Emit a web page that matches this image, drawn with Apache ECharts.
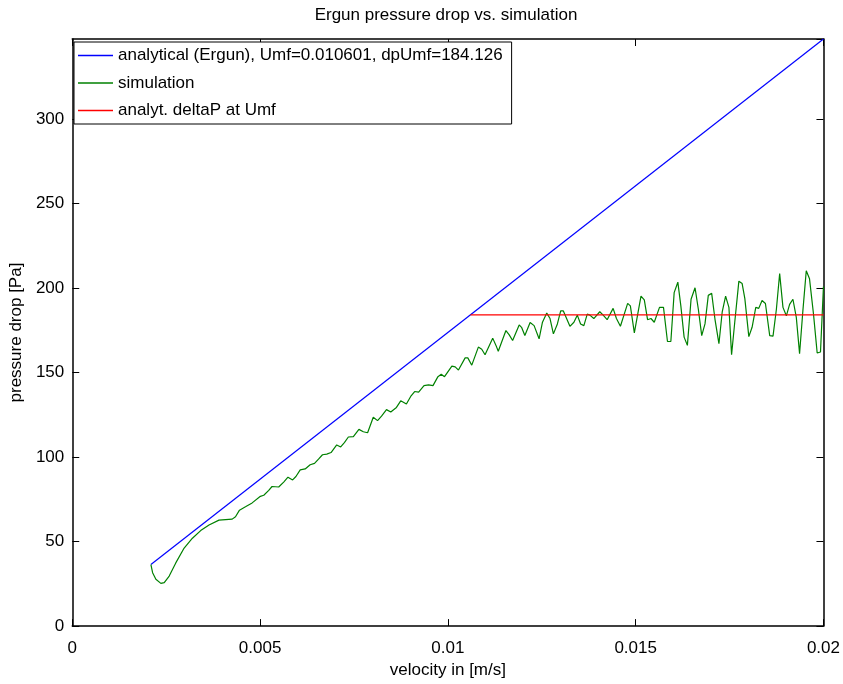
<!DOCTYPE html>
<html>
<head>
<meta charset="utf-8">
<script src="https://cdn.jsdelivr.net/npm/echarts@6/dist/echarts.min.js"></script>
<style>
html,body{margin:0;padding:0;background:#fff;}
#chart{width:843px;height:684px;}
</style>
</head>
<body>
<div id="chart"></div>
<script>
// analytical Ergun line (two ends) and Umf level
var ergunV = [0.002094, 0.02];
var ergunDp = [36.4, 347.4];
var umfV = [0.010601, 0.02];
var umfDp = [184.126, 184.126];

// simulation
var simV = [0.002094,0.002139,0.002226,0.002359,0.002449,0.002581,0.002756,0.002979,0.003199,0.003419,
	0.003641,0.003906,0.004259,0.004346,0.004452,0.004611,0.004789,0.005009,0.005099,0.005231,
	0.005319,0.005496,0.005629,0.005743,0.005867,0.005955,0.006069,0.006201,0.006334,0.006450,
	0.006556,0.006662,0.006776,0.006890,0.007041,0.007147,0.007245,0.007351,0.007484,0.007632,
	0.007749,0.007863,0.008014,0.008128,0.008234,0.008366,0.008480,0.008631,0.008745,0.008896,
	0.009010,0.009116,0.009222,0.009365,0.009487,0.009604,0.009736,0.009824,0.009911,0.010107,
	0.010195,0.010282,0.010460,0.010531,0.010637,0.010812,0.010902,0.010990,0.011194,0.011281,
	0.011342,0.011546,0.011634,0.011724,0.011899,0.011962,0.012050,0.012190,0.012296,0.012429,
	0.012519,0.012633,0.012720,0.012810,0.012916,0.013004,0.013075,0.013250,0.013356,0.013446,
	0.013534,0.013621,0.013711,0.013780,0.013886,0.014045,0.014135,0.014241,0.014400,0.014488,
	0.014594,0.014787,0.014859,0.014965,0.015142,0.015230,0.015317,0.015407,0.015495,0.015635,
	0.015741,0.015847,0.015937,0.016025,0.016123,0.016203,0.016290,0.016377,0.016475,0.016581,
	0.016669,0.016759,0.016846,0.016934,0.017024,0.017111,0.017217,0.017305,0.017395,0.017483,
	0.017554,0.017642,0.017748,0.017835,0.017907,0.018013,0.018100,0.018198,0.018277,0.018365,
	0.018455,0.018569,0.018657,0.018747,0.018834,0.018922,0.019012,0.019099,0.019187,0.019277,
	0.019364,0.019452,0.019542,0.019629,0.019735,0.019833,0.019921,0.020000];
var simDp = [36.4,31.6,27.7,25.3,25.7,29.6,37.4,46.2,52.0,56.5,
	59.8,62.7,63.3,64.7,68.6,70.6,72.9,76.8,77.4,80.3,
	82.6,82.3,85.2,88.1,86.5,88.5,92.4,93.0,95.5,96.3,
	98.8,101.4,101.8,102.7,107.2,106.0,108.6,111.9,112.1,116.4,
	115.0,114.4,123.6,121.6,124.2,128.1,126.7,129.4,133.3,131.4,
	135.9,138.8,138.4,142.3,142.7,142.3,147.6,149.0,147.6,153.8,
	153.4,151.5,158.7,158.7,154.4,165.1,163.8,160.6,170.4,166.1,
	162.6,174.9,172.3,169.0,178.2,176.8,171.9,179.7,177.8,170.0,
	179.8,185.2,182.0,172.9,178.8,186.5,186.5,177.4,179.8,184.0,
	178.8,177.8,184.6,184.0,182.0,186.0,184.0,181.3,188.0,182.0,
	177.4,191.0,189.5,173.5,195.3,193.0,181.3,182.0,179.8,188.6,
	188.6,168.4,168.4,197.3,203.5,189.5,171.0,166.1,193.4,200.2,
	187.5,171.9,178.8,195.7,196.9,181.7,167.1,186.0,195.3,188.6,
	160.6,180.7,204.1,202.7,193.8,171.3,176.8,188.6,188.0,192.7,
	190.9,171.9,171.6,187.5,208.6,188.6,183.6,190.4,193.4,182.7,
	161.2,186.5,210.3,205.5,184.6,161.6,162.2,201.0];

var xTicks = [0, 0.005, 0.01, 0.015, 0.02];
var yTicks = [0, 50, 100, 150, 200, 250, 300];

function pairs(a, b){
	var out = [];
	for(var i=0;i<a.length;i++){
		out.push([a[i], b[i]]);
	}
	return out;
}

var fontName = 'Liberation Sans';
var fs = 17;
var lineIcon = 'path://M0,0L35,0L35,1.3L0,1.3Z';//图例只画一条线
var axisBase = {
	axisLine:{ show:true, onZero:false, lineStyle:{ color:'#000', width:1.5 } },
	axisTick:{ show:true, inside:true, length:7, lineStyle:{ color:'#000', width:1 } },
	splitLine:{ show:false }
};

var chart = echarts.init(document.getElementById('chart'));
var option = {
	backgroundColor:'#fff',
	animation:false,
	textStyle:{ fontFamily:fontName },
	title:{
		text:'Ergun pressure drop vs. simulation',
		left:446, top:7, textAlign:'center', padding:0,
		textStyle:{ fontFamily:fontName, fontSize:fs, fontWeight:'normal', color:'#000' }
	},
	grid:{ left:69, right:19, top:39, bottom:51 },
	legend:{
		orient:'vertical',
		left:74, top:42,
		padding:[5,9,5,4],
		itemWidth:35, itemHeight:14, itemGap:10.5,
		borderColor:'#000', borderWidth:1, backgroundColor:'#fff',
		textStyle:{ fontFamily:fontName, fontSize:fs, lineHeight:17, color:'#000' },
		data:[
			{ name:'analytical (Ergun), Umf=0.010601, dpUmf=184.126', icon:lineIcon },
			{ name:'simulation', icon:lineIcon },
			{ name:'analyt. deltaP at Umf', icon:lineIcon }
		]
	},
	xAxis:[
		Object.assign({}, axisBase, {
			type:'value', min:0, max:0.02, interval:0.005, position:'bottom',
			name:'velocity in [m/s]', nameLocation:'middle', nameGap:34,
			nameTextStyle:{ fontFamily:fontName, fontSize:fs, color:'#000' },
			axisLabel:{ margin:14, fontFamily:fontName, fontSize:fs, color:'#000',
				formatter:function(v){ return xTicks.indexOf(v) >= 0 ? String(v) : ''; } }
		}),
		Object.assign({}, axisBase, {
			type:'value', min:0, max:0.02, interval:0.005, position:'top',
			axisLabel:{ show:false }
		})
	],
	yAxis:[
		Object.assign({}, axisBase, {
			type:'value', min:0, max:347.4, interval:50, position:'left',
			name:'pressure drop [Pa]', nameLocation:'middle', nameGap:41, nameRotate:90,
			nameTextStyle:{ fontFamily:fontName, fontSize:fs, color:'#000' },
			axisLabel:{ margin:8, fontFamily:fontName, fontSize:fs, color:'#000', showMaxLabel:false,
				formatter:function(v){ return yTicks.indexOf(v) >= 0 ? String(v) : ''; } }
		}),
		Object.assign({}, axisBase, {
			type:'value', min:0, max:347.4, interval:50, position:'right',
			axisLabel:{ show:false }
		})
	],
	series:[{
		name:'analytical (Ergun), Umf=0.010601, dpUmf=184.126',
		type:'line', symbol:'none',
		lineStyle:{ color:'#0000ff', width:1.2 }, itemStyle:{ color:'#0000ff' },
		data:pairs(ergunV, ergunDp)
	},{
		name:'simulation',
		type:'line', symbol:'none',
		lineStyle:{ color:'#008000', width:1.2 }, itemStyle:{ color:'#008000' },
		data:pairs(simV, simDp)
	},{
		name:'analyt. deltaP at Umf',
		type:'line', symbol:'none',
		lineStyle:{ color:'#ff0000', width:1.2 }, itemStyle:{ color:'#ff0000' },
		data:pairs(umfV, umfDp)
	}]
};
chart.setOption(option);
</script>
</body>
</html>
